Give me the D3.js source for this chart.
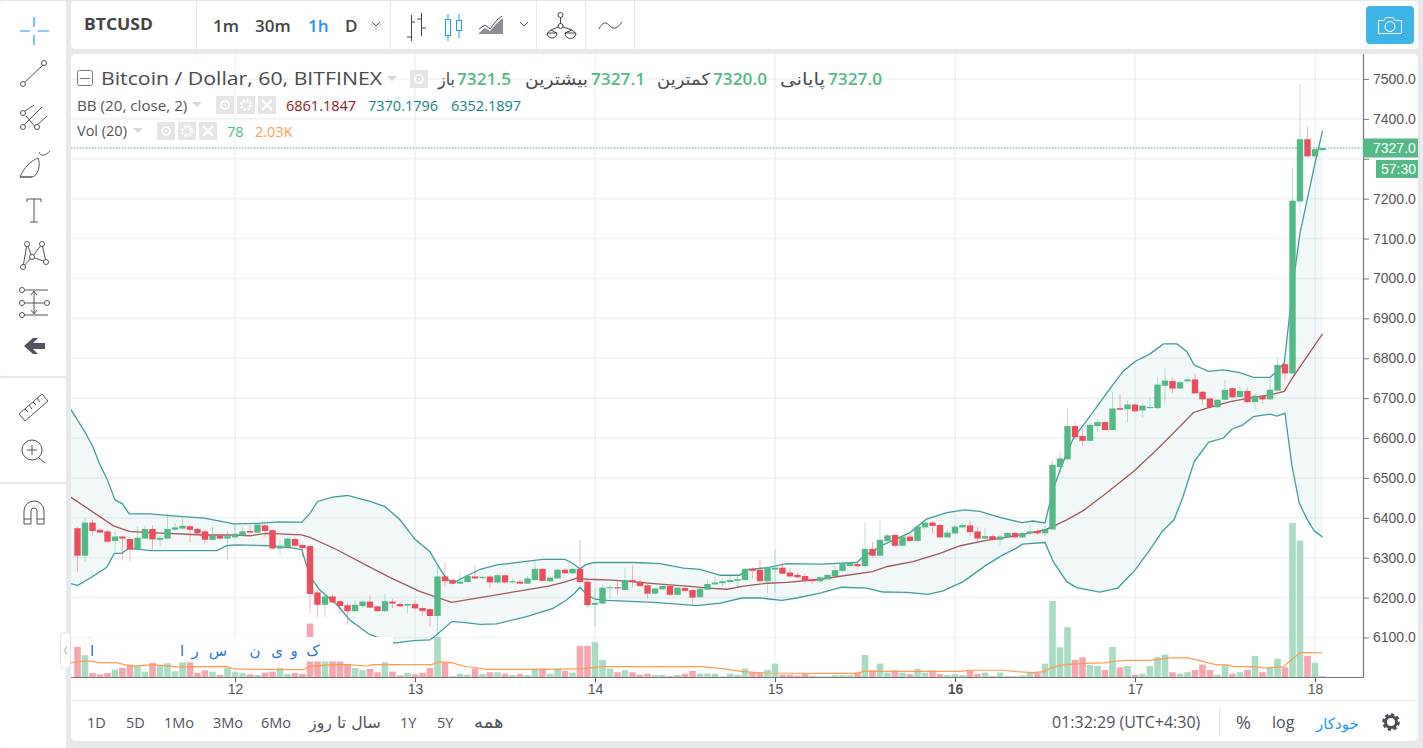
<!DOCTYPE html>
<html>
<head>
<meta charset="utf-8">
<style>
html,body{margin:0;padding:0;background:#e6e9ec;overflow:hidden}
svg{display:block}
text{font-family:"Open Sans","DejaVu Sans",sans-serif}
</style>
</head>
<body>
<svg id="c" width="1423" height="748"></svg>
<script src="https://cdn.jsdelivr.net/npm/d3@7"></script>
<script>
// DATA ///////////////////////////////////////////////////////////////////////
// hourly candles
var opens = [6374,6305,6388,6370,6366,6342,6353,6347,6320,6348,6372,6345,6348,6370,6373,6379,6372,6366,6345,6355,
  6348,6351,6356,6367,6363,6381,6369,6323,6325,6347,6332,6329,6213,6182,6203,6191,6181,6166,6179,6190,
  6178,6166,6190,6184,6180,6184,6174,6171,6154,6253,6244,6235,6239,6253,6249,6253,6238,6256,6238,6240,
  6235,6244,6272,6241,6248,6270,6261,6272,6240,6182,6185,6224,6226,6219,6244,6240,6231,6210,6221,6229,
  6207,6224,6219,6201,6220,6233,6236,6239,6242,6244,6272,6270,6241,6270,6275,6263,6257,6254,6246,6241,
  6246,6254,6267,6279,6284,6279,6322,6305,6342,6357,6330,6353,6342,6376,6388,6382,6351,6361,6376,6381,
  6366,6348,6354,6345,6351,6362,6351,6361,6367,6361,6371,6527,6547,6630,6605,6593,6630,6640,6620,6675,
  6672,6684,6669,6675,6675,6731,6743,6724,6742,6747,6716,6699,6677,6696,6725,6703,6718,6690,6706,6697,
  6719,6785,6762,7193,7349,7306,7321.5];
var closes = [6305,6388,6367,6363,6340,6353,6348,6320,6350,6372,6346,6350,6372,6376,6380,6370,6361,6345,6355,6348,
  6354,6360,6366,6363,6383,6367,6323,6330,6348,6330,6324,6209,6182,6203,6188,6179,6166,6182,6190,6175,
  6166,6191,6185,6178,6184,6173,6166,6154,6253,6241,6235,6240,6254,6248,6252,6238,6256,6238,6241,6235,
  6248,6272,6242,6250,6270,6261,6272,6239,6181,6187,6225,6226,6223,6244,6239,6229,6210,6223,6229,6207,
  6225,6217,6200,6222,6234,6238,6241,6244,6246,6272,6267,6241,6275,6275,6260,6253,6251,6242,6241,6251,
  6257,6269,6284,6287,6279,6322,6305,6345,6356,6330,6353,6342,6378,6388,6380,6351,6363,6378,6382,6364,
  6348,6354,6345,6353,6362,6351,6362,6366,6361,6372,6533,6549,6630,6602,6593,6633,6640,6620,6674,6671,
  6684,6667,6681,6678,6734,6744,6724,6740,6747,6712,6697,6677,6696,6721,6702,6718,6690,6706,6697,6721,
  6783,6762,7195,7349,7306,7324,7327];
var highs = [6378,6401,6396,6374,6370,6366,6355,6349,6378,6380,6382,6355,6411,6388,6399,6382,6376,6370,6378,6357,
  6366,6382,6378,6382,6386,6386,6371,6346,6351,6349,6335,6332,6221,6207,6209,6194,6188,6194,6193,6207,
  6181,6209,6196,6188,6186,6193,6178,6173,6278,6288,6247,6263,6257,6280,6256,6256,6260,6258,6247,6246,
  6254,6295,6274,6254,6272,6273,6278,6345,6244,6224,6232,6232,6244,6274,6282,6246,6234,6224,6232,6231,
  6228,6228,6221,6226,6246,6253,6249,6254,6257,6275,6276,6295,6278,6321,6289,6274,6263,6259,6248,6254,
  6259,6282,6290,6289,6289,6388,6340,6392,6360,6359,6357,6360,6382,6395,6391,6384,6371,6382,6386,6392,
  6376,6374,6359,6357,6365,6365,6364,6382,6371,6382,6543,6566,6675,6640,6625,6637,6646,6642,6716,6711,
  6694,6687,6686,6700,6752,6775,6752,6742,6750,6762,6719,6702,6697,6746,6727,6731,6727,6712,6708,6750,
  6800,6789,7277,7488,7381,7329,7327.1];
var lows = [6263,6290,6355,6361,6339,6315,6294,6290,6318,6346,6321,6330,6346,6368,6371,6338,6357,6335,6343,6346,
  6294,6349,6355,6361,6361,6351,6321,6307,6325,6328,6303,6159,6151,6151,6184,6157,6132,6164,6173,6173,
  6164,6164,6174,6176,6162,6169,6157,6127,6102,6226,6233,6234,6238,6246,6246,6225,6236,6236,6236,6233,
  6234,6243,6240,6239,6246,6259,6259,6236,6176,6127,6183,6196,6207,6218,6226,6226,6198,6208,6219,6204,
  6205,6213,6184,6199,6219,6231,6228,6238,6226,6243,6248,6239,6211,6213,6259,6251,6249,6236,6234,6239,
  6244,6253,6265,6278,6271,6276,6301,6303,6336,6328,6328,6340,6340,6371,6360,6350,6350,6359,6375,6353,
  6340,6346,6343,6331,6350,6350,6350,6358,6358,6355,6370,6508,6545,6597,6580,6591,6619,6619,6619,6669,
  6639,6665,6652,6673,6673,6687,6712,6722,6740,6711,6683,6675,6675,6694,6701,6701,6688,6672,6687,6696,
  6717,6744,6761,7162,7304,7304,7320];
// volume in thousands
var volumes = [2.54,1.84,.34,.23,.34,.62,.76,1.05,.99,.45,1.19,.99,1.16,.48,1.24,1.24,.34,.57,.45,.17,
  .79,.45,.34,.23,.17,.37,.45,.76,.25,.34,.25,4.52,1.41,1.55,1.7,1.55,1.07,.76,.57,.68,
  .4,1.24,.45,.14,.34,.23,.34,.76,3.39,1.24,.06,.28,.2,.71,.25,.4,.4,.28,.17,.28,
  .17,.71,.71,.28,.71,.51,.37,2.63,2.63,2.94,1.44,.71,.4,.57,.4,.2,.28,.17,.17,.08,
  .17,.28,.51,.28,.28,.28,.06,.28,.2,.71,.4,.4,.59,1.13,.2,.2,.11,.31,.08,.06,
  .06,.17,.17,.17,.37,1.86,.57,1.13,.37,.57,.37,.25,.68,.37,.57,.25,.17,.25,.17,.51,
  .25,.37,.08,.37,.08,.06,.14,.37,.37,1.13,6.44,2.51,4.21,1.44,1.67,1.02,.93,.59,2.54,.82,
  .93,.2,.28,.93,1.67,1.89,.4,.28,.4,.59,1.05,.59,.2,1.05,.28,.4,.59,1.78,.4,.79,
  1.55,.82,13.02,11.53,1.78,1.21,.078];
// indicator lines as [candle index, value] readings
var bbUpper = [[-1,6675],[0,6645],[1,6615],[2,6580],[3,6533],[4,6495],[5,6445],[6,6435],[6.9,6410],[9.7,6410],[12.7,6405],[16.9,6399],[20.9,6385],[23.9,6386],[26.9,6390],[29.9,6389],[31,6411],[32,6441],[34,6452],[36,6456],[39,6441],[41,6428],[43,6395],[45,6346],[47,6315],[48,6282],[49,6253],[50,6236],[51.7,6253],[53.7,6271],[55.9,6282],[59,6289],[62,6296],[65,6296],[66,6286],[67,6272],[67.7,6282],[68.8,6288],[74.1,6288],[77.7,6285],[80.8,6274],[83,6271],[85.7,6256],[88.3,6256],[89.2,6270],[92,6275],[94.6,6285],[99,6284],[103.9,6288],[104.8,6303],[107.4,6332],[111,6363],[113.2,6397],[115.9,6413],[118.3,6420],[120.3,6416],[123,6401],[125.9,6388],[127.4,6392],[129,6387],[130,6466],[131,6520],[131.9,6562],[132.8,6600],[134.8,6650],[137.2,6712],[139.4,6767],[141,6792],[143,6811],[144.8,6836],[146.6,6836],[147.9,6817],[148.9,6783],[150.8,6767],[152.8,6771],[155,6764],[156.8,6752],[159,6752],[159.9,6767],[160.9,6788],[162,6975],[163,7114],[164,7201],[165,7289],[166,7370.18]];
var bbBasis = [[-1,6453],[4.8,6380],[6.9,6366],[9.7,6363],[16.8,6357],[20.3,6357],[23,6355],[25.2,6361],[29.9,6357],[31,6351],[34.6,6320],[38.6,6280],[41.7,6250],[45.7,6215],[49.9,6188],[62.8,6229],[64.8,6238],[66.6,6249],[68,6246],[71.4,6244],[77.7,6234],[81.7,6228],[84,6224],[86.6,6221],[88.8,6229],[91.9,6236],[94.6,6238],[99,6246],[100.8,6251],[106,6265],[108,6278],[111.4,6290],[115,6311],[117.7,6330],[121,6343],[125,6355],[129,6370],[130,6378],[131.9,6395],[134.1,6418],[137.2,6462],[140.8,6516],[143.4,6562],[145.2,6595],[148.8,6664],[150.6,6675],[153.7,6691],[156.8,6702],[159,6708],[160.9,6717],[162.1,6754],[166,6861.18]];
var bbLower = [[-1,6236],[0,6230],[1.7,6249],[3.9,6276],[4.9,6311],[5.9,6311],[6.9,6324],[9.7,6318],[12.3,6318],[18.6,6318],[19.9,6330],[21.2,6332],[25.7,6330],[28.8,6324],[29.9,6320],[31,6253],[32.3,6219],[34.6,6182],[36.3,6144],[39,6107],[42.3,6086],[44.8,6092],[47,6094],[47.9,6107],[49.9,6140],[51.4,6138],[53.7,6133],[55.9,6134],[60,6153],[63.4,6173],[65.2,6194],[66.3,6211],[67,6226],[67.9,6207],[69,6196],[70.6,6193],[76.8,6188],[82.6,6180],[85.7,6186],[88.6,6199],[91,6199],[93.9,6193],[95.9,6199],[99,6211],[101.9,6226],[105.2,6224],[107.4,6214],[110.6,6213],[113.4,6208],[115.4,6217],[118.1,6240],[121.2,6282],[123.4,6307],[125.2,6324],[126,6334],[129,6338],[130.1,6290],[131.9,6240],[133.2,6225],[136.3,6214],[138.7,6224],[141,6269],[143,6320],[144.6,6365],[146.2,6395],[147.4,6453],[148.9,6541],[150.8,6589],[152.8,6600],[153.9,6622],[155.4,6633],[156.8,6654],[159,6660],[159.9,6655],[161,6662],[161.9,6533],[162.9,6437],[163.9,6398],[164.9,6367],[166,6352.19]];
var volMA = [[-1,1.19],[1.2,1.38],[3,1.21],[5.2,1.21],[7.2,.9],[10.1,1.05],[13.2,.85],[19.9,.9],[20.8,.68],[27.4,.62],[30.1,.62],[31,.9],[34.1,1.05],[35.9,1.05],[38.6,.93],[39.4,1.05],[41.7,1.05],[47.2,1.05],[48.3,1.27],[49.9,1.21],[51.4,.93],[54.6,.65],[63.4,.65],[67.4,.71],[70,.88],[83,.88],[85.7,.73],[88.8,.45],[91.5,.34],[99,.31],[103.9,.31],[104.8,.48],[117.7,.48],[119,.57],[123.4,.57],[125.2,.45],[127.4,.37],[128.8,.45],[129.9,.79],[131.4,1.02],[134,1.16],[137,1.19],[137.9,1.3],[139.7,1.41],[143,1.41],[145.7,1.61],[148.1,1.61],[150.1,1.3],[151.9,1.02],[153.2,1.02],[154.1,.88],[156.8,.88],[158.1,.76],[160.8,.88],[163,2.06],[164.9,2.06],[166,2.03]];

var priceTicks = d3.range(6100, 7501, 100);
var dayIndex = [21, 45, 69, 93, 117, 141, 165];
var dayLabels = ["12", "13", "14", "15", "16", "17", "18"];
var lastPrice = 7327.0;
var ranges = ["1D", "5D", "1Mo", "3Mo", "6Mo", "سال تا روز", "1Y", "5Y", "همه"];
var rangeX = [87, 126, 164, 213, 261, 309, 400, 437, 474];
var rangeSize = [14.5, 14.5, 14.5, 14.5, 14.5, 15.8, 14.5, 14.5, 18];

// SCALES /////////////////////////////////////////////////////////////////////
var UP = "#53b987", DOWN = "#eb4d5c", TEAL = "#138484", GREY = "#50535e", BLUE = "#2196f3";
var x = d3.scaleLinear().domain([0, 166]).range([77.5, 1322.5]);
var y = d3.scaleLinear().domain([6100, 7500]).range([637.5, 79]);
var yVol = d3.scaleLinear().domain([0, 13.02]).range([677, 523]);

var svg = d3.select("#c");

function txt(px, py, s, size, col, extra) {
  var t = svg.append("text").attr("x", px).attr("y", py).attr("font-size", size)
    .attr("fill", col || GREY).text(s);
  for (var k in (extra || {})) t.attr(k, extra[k]);
  return t;
}
function box(g, px, py, w, h, fill, r) {
  return g.append("rect").attr("x", px).attr("y", py).attr("width", w).attr("height", h)
    .attr("fill", fill).attr("rx", r || 0);
}

// PANELS /////////////////////////////////////////////////////////////////////
box(svg, 0, 1, 66, 375, "#fff", 2);
box(svg, 0, 378, 66, 104, "#fff", 2);
box(svg, 0, 484, 66, 264, "#fff", 2);
box(svg, 71, 1, 1347, 48, "#fff", 4);
box(svg, 71, 54, 1347, 687, "#fff", 5);
[196, 390, 536, 585, 634].forEach(function (sx) {
  svg.append("line").attr("x1", sx + .5).attr("x2", sx + .5).attr("y1", 1).attr("y2", 49).attr("stroke", "#e6e9ec");
});
svg.append("line").attr("x1", 71).attr("x2", 1418).attr("y1", 700.5).attr("y2", 700.5).attr("stroke", "#e6e9ec");

// GRID ///////////////////////////////////////////////////////////////////////
var plot = svg.append("g").attr("clip-path", "url(#plotClip)");
svg.append("clipPath").attr("id", "plotClip").append("rect")
  .attr("x", 71).attr("y", 54).attr("width", 1292.5).attr("height", 623);

plot.selectAll(".hg").data(priceTicks).enter().append("line")
  .attr("x1", 71).attr("x2", 1363).attr("y1", y).attr("y2", y)
  .attr("stroke", "#f0f3f6").attr("stroke-width", 1.6);
plot.selectAll(".vg").data(dayIndex).enter().append("line")
  .attr("x1", x).attr("x2", x).attr("y1", 54).attr("y2", 677)
  .attr("stroke", "#e6eef3").attr("stroke-width", 1);

// VOLUME /////////////////////////////////////////////////////////////////////
plot.selectAll(".vol").data(volumes).enter().append("rect")
  .attr("x", function (d, i) { return x(i) - 3.3; })
  .attr("width", 6.6)
  .attr("y", function (d) { return yVol(d); })
  .attr("height", function (d) { return 677 - yVol(d); })
  .attr("fill", function (d, i) { return closes[i] >= opens[i] ? "#aadcc3" : "#f6a6ae"; });

// BOLLINGER BANDS ////////////////////////////////////////////////////////////
var lineP = d3.line().x(function (d) { return x(d[0]); }).y(function (d) { return y(d[1]); });
plot.append("path").datum(bbUpper.concat(bbLower.slice().reverse()))
  .attr("d", function (d) { return lineP(d) + "Z"; })
  .attr("fill", "#138484").attr("fill-opacity", .055);
[bbUpper, bbLower].forEach(function (band) {
  plot.append("path").datum(band).attr("d", lineP).attr("fill", "none")
    .attr("stroke", TEAL).attr("stroke-opacity", .8).attr("stroke-width", 1.3);
});
plot.append("path").datum(bbBasis).attr("d", lineP).attr("fill", "none")
  .attr("stroke", "#872323").attr("stroke-opacity", .75).attr("stroke-width", 1.3);

// watermark strip sits over the indicators
box(plot, 93, 637, 300, 24.5, "#fff");
var wmLetters = ["ا", "ا", "ر", "س", "ن", "ی", "و", "ک"];
var wmX = [92, 182, 195, 218, 255, 277, 294, 313];
plot.selectAll(".wm").data(wmLetters).enter().append("text")
  .attr("x", function (d, i) { return wmX[i]; }).attr("y", 656)
  .attr("text-anchor", "middle").attr("font-size", 15)
  .attr("style", "font-family:'DejaVu Sans'").attr("fill", "#2f75d0").text(function (d) { return d; });

// volume average goes on top of the strip
var lineV = d3.line().x(function (d) { return x(d[0]); }).y(function (d) { return yVol(d[1]); });
plot.append("path").datum(volMA).attr("d", lineV).attr("fill", "none").attr("stroke", "#ff9a4d").attr("stroke-width", 1.2);

// CANDLES ////////////////////////////////////////////////////////////////////
var candle = plot.selectAll(".candle").data(opens).enter().append("g");
function col(i) { return closes[i] >= opens[i] ? UP : DOWN; }
candle.append("line")
  .attr("x1", function (d, i) { return x(i); }).attr("x2", function (d, i) { return x(i); })
  .attr("y1", function (d, i) { return y(highs[i]); }).attr("y2", function (d, i) { return y(lows[i]); })
  .attr("stroke", function (d, i) { return col(i); }).attr("stroke-opacity", .42);
candle.append("rect")
  .attr("x", function (d, i) { return x(i) - 3.2; }).attr("width", 6.4)
  .attr("y", function (d, i) { return y(Math.max(opens[i], closes[i])); })
  .attr("height", function (d, i) { return Math.max(1, Math.abs(y(opens[i]) - y(closes[i]))); })
  .attr("fill", function (d, i) { return col(i); });

// last price line
plot.append("line").attr("x1", 71).attr("x2", 1363).attr("y1", y(lastPrice)).attr("y2", y(lastPrice))
  .attr("stroke", UP).attr("stroke-dasharray", "1.5 1.5");

// AXES ///////////////////////////////////////////////////////////////////////
// the 7300 label sits under the price tags in the picture
var yAxis = d3.axisRight(y).tickValues(priceTicks)
  .tickFormat(function (d) { return d === 7300 ? "" : d3.format(".1f")(d); })
  .tickSize(5).tickPadding(4);
var gy = svg.append("g").attr("transform", "translate(1364,0)").call(yAxis);
gy.select(".domain").remove();
gy.selectAll("line").attr("stroke", "#777");
gy.selectAll("text").attr("font-size", 14).attr("fill", "#555").attr("style", "font-family:'Liberation Sans'");

var xAxis = d3.axisBottom(x).tickValues(dayIndex).tickFormat(function (d, i) { return dayLabels[i]; }).tickSize(5).tickPadding(2);
var gx = svg.append("g").attr("transform", "translate(0,677)").call(xAxis);
gx.select(".domain").remove();
gx.selectAll("line").attr("stroke", "#555");
gx.selectAll("text").attr("font-size", 14).attr("fill", "#555")
  .attr("font-weight", function (d, i) { return dayLabels[i] === "16" ? "bold" : "normal"; })
  .attr("style", "font-family:'Liberation Sans'");

svg.append("line").attr("x1", 1363.5).attr("x2", 1363.5).attr("y1", 54).attr("y2", 677.5).attr("stroke", "#777").attr("stroke-width", 1.2);
svg.append("line").attr("x1", 71).attr("x2", 1364).attr("y1", 677.5).attr("y2", 677.5).attr("stroke", "#777").attr("stroke-width", 1.2);

// price tags
box(svg, 1363, 138.5, 55, 19, UP);
txt(1373, 153, "7327.0", 14, "#fff", { style: "font-family:'Liberation Sans'" });
box(svg, 1376, 160, 42, 18, UP);
txt(1381, 174, "57:30", 14, "#fff", { style: "font-family:'Liberation Sans'" });

// LEGEND /////////////////////////////////////////////////////////////////////
function tri(px, py) {
  svg.append("path").attr("d", "M" + px + " " + py + "h10l-5 5z").attr("fill", "#d6d8da");
}
function btns(xs, py) {
  xs.forEach(function (bx) { box(svg, bx, py, 18, 18, "#e4e5e6"); });
  xs.forEach(function (bx, i) {
    var cx = bx + 9, cy = py + 9;
    if (i === 0) {
      svg.append("circle").attr("cx", cx).attr("cy", cy).attr("r", 4).attr("fill", "none").attr("stroke", "#fff").attr("stroke-width", 1.6);
      svg.append("circle").attr("cx", cx).attr("cy", cy).attr("r", 1.2).attr("fill", "#fff");
    } else if (i === 1) {
      svg.append("circle").attr("cx", cx).attr("cy", cy).attr("r", 4.6).attr("fill", "none").attr("stroke", "#fff").attr("stroke-width", 3).attr("stroke-dasharray", "2.2 1.4");
    } else {
      svg.append("path").attr("d", "M" + (cx - 5) + " " + (cy - 5) + "l10 10m0 -10l-10 10").attr("stroke", "#fff").attr("stroke-width", 2);
    }
  });
}
// collapse square
svg.append("rect").attr("x", 77.5).attr("y", 70.5).attr("width", 15).attr("height", 15).attr("rx", 2).attr("fill", "none").attr("stroke", "#777");
svg.append("line").attr("x1", 80).attr("x2", 90).attr("y1", 78.5).attr("y2", 78.5).attr("stroke", "#777");
txt(101, 85, "Bitcoin / Dollar, 60, BITFINEX", 19, "#4a4a4a", { textLength: 281, lengthAdjust: "spacingAndGlyphs" });
tri(387, 76);
btns([410], 70);
var ohlcLabels = ["باز", "بیشترین", "کمترین", "پایانی"];
var ohlcLabelX = [438, 525, 657, 780];
var ohlcLen = [17, 63, 53, 45];
var ohlcValues = ["7321.5", "7327.1", "7320.0", "7327.0"];
var ohlcValueX = [457, 591, 713, 828];
ohlcLabels.forEach(function (s, i) {
  txt(ohlcLabelX[i], 85, s, 16.5, "#4a4a4a", { style: "font-family:'DejaVu Sans'", textLength: ohlcLen[i], lengthAdjust: "spacingAndGlyphs" });
  txt(ohlcValueX[i], 85, ohlcValues[i], 17, UP, { "font-weight": 600 , textLength: 54, lengthAdjust: "spacingAndGlyphs" });
});
txt(77, 111, "BB (20, close, 2)", 15.2, "#555");
tri(192, 102);
btns([216, 237, 258], 96);
txt(286, 111, "6861.1847", 14.5, "#872323");
txt(368, 111, "7370.1796", 14.5, "#138484");
txt(451, 111, "6352.1897", 14.5, "#138484");
txt(77, 136, "Vol (20)", 14.5, "#555");
tri(133, 128);
btns([157, 178, 199], 122);
txt(227, 137, "78", 14.5, UP);
txt(255, 137, "2.03K", 14.5, "#ff9a4d");

// TOP TOOLBAR ////////////////////////////////////////////////////////////////
txt(84, 30, "BTCUSD", 16.5, "#444", { "font-weight": 700, textLength: 69, lengthAdjust: "spacingAndGlyphs" });
txt(213, 32, "1m", 17, "#444", { "font-weight": 600 });
txt(255, 32, "30m", 17, "#444", { "font-weight": 600 });
txt(308, 32, "1h", 17, BLUE, { "font-weight": 600 });
txt(345, 32, "D", 17, "#444", { "font-weight": 600 });
function chev(px, py) {
  svg.append("path").attr("d", "M" + (px - 4) + " " + (py - 2) + "l4 4l4 -4").attr("fill", "none").attr("stroke", GREY);
}
chev(376, 24); chev(524, 24);
function icon(d, c, w) {
  return svg.append("path").attr("d", d).attr("fill", "none").attr("stroke", c || GREY).attr("stroke-width", w || 1);
}
// bars
icon("M411.5 15V41M407 37H411.5M411.5 22H415M421.5 13V36M417 19H421.5M421.5 28H426", "#444");
// candles
icon("M448 14V41M459 14V38", BLUE);
svg.append("rect").attr("x", 445.5).attr("y", 19.5).attr("width", 5).attr("height", 16).attr("fill", "#fff").attr("stroke", BLUE);
svg.append("rect").attr("x", 456.5).attr("y", 20.5).attr("width", 5).attr("height", 10).attr("fill", "#fff").attr("stroke", BLUE);
// area
icon("M479 29L485 25L490 29L497 20L502 16", GREY);
svg.append("path").attr("d", "M479 33L485 28L490 31L497 23L503 18V34H479Z").attr("fill", "#8a8d95");
// compare
icon("M560.5 17V24M551 30L560.5 26L572 30M547 33H557A5 5 0 0 1 547 33ZM565 33H576A5.5 5.5 0 0 1 565 33ZM551 30L547.5 33M551 30L556.5 33M572 30L565 33M572 30L575.5 33", "#444");
svg.append("circle").attr("cx", 560.5).attr("cy", 15).attr("r", 2.5).attr("fill", "#fff").attr("stroke", "#444");
svg.append("circle").attr("cx", 560.5).attr("cy", 26).attr("r", 2.5).attr("fill", "#fff").attr("stroke", "#444");
// indicators
icon("M599 29C603 21 606 22 610 26C614 30 618 28 622 22", GREY);
// camera
box(svg, 1366, 6, 48, 38, "#3eb4e6", 4);
icon("M1378.5 33.5V20.5H1384L1386 17.5H1393L1395 20.5H1401.5V33.5Z", "#fff");
svg.append("circle").attr("cx", 1390).attr("cy", 26.5).attr("r", 5).attr("fill", "none").attr("stroke", "#fff");

// LEFT TOOLBAR ///////////////////////////////////////////////////////////////
function dot(px, py, r) {
  svg.append("circle").attr("cx", px).attr("cy", py).attr("r", r || 2.5).attr("fill", "#fff").attr("stroke", GREY);
}
icon("M34 17V27M34 35V45M20 31H30M38 31H49", BLUE, 1.2);
icon("M23 84L44 64"); dot(23, 84); dot(44, 63);
icon("M22 113L34 105M22 127L42 107M26 116L37 129M35 127L47 116"); dot(23, 113); dot(23, 127); dot(37, 127);
icon("M20 177C24 167 31 161 38 158C41 165 38 176 32 177ZM20 177H32M39 152C41 157 45 156 50 151");
icon("M27 199H41V202M27 199V202M34 199V222M30 222H38");
icon("M23 267L27 244L32 257L42 244L46 262L32 257L23 267"); dot(23, 267); dot(27, 244); dot(32, 257); dot(42, 244); dot(46, 262);
icon("M23 290H48M23 303H47M23 315H48M34 292V313M31 295L34 291L37 295M31 310L34 314L37 310"); dot(22, 290); dot(22, 303); dot(47, 303); dot(22, 315);
svg.append("path").attr("d", "M24 346L33 338H38L33 343H45V349H33L38 354H33Z").attr("fill", "#50535e");
icon("M19 414L42 394L48 401L25 421ZM25 409L28 412M29 405L32 409M33 402L36 405M37 398L40 402");
svg.append("circle").attr("cx", 32).attr("cy", 450).attr("r", 10).attr("fill", "none").attr("stroke", GREY);
icon("M39 458L45 463M27 450H37M32 445V455");
icon("M24 524V511A10 10 0 0 1 44 511V524H37V511A3 3 0 0 0 31 511V524ZM24 519H31M37 519H44");

// collapse tab
svg.append("rect").attr("x", 60.5).attr("y", 632.5).attr("width", 10).attr("height", 36).attr("rx", 4).attr("fill", "#fff").attr("stroke", "#dfe2e5");
icon("M67 647L64 650.5L67 654", "#999");

// BOTTOM BAR /////////////////////////////////////////////////////////////////
ranges.forEach(function (s, i) {
  txt(rangeX[i], 728, s, rangeSize[i], "#50535e", { style: i === 5 || i === 8 ? "font-family:'DejaVu Sans'" : null });
});
txt(1052, 728, "01:32:29 (UTC+4:30)", 16, "#50535e");
svg.append("line").attr("x1", 1219.5).attr("x2", 1219.5).attr("y1", 708).attr("y2", 735).attr("stroke", "#e0e3e6");
txt(1236, 729, "%", 18, "#50535e");
txt(1272, 728, "log", 16, "#50535e");
txt(1316, 729, "خودکار", 15, BLUE, { style: "font-family:'DejaVu Sans'" });
svg.append("circle").attr("cx", 1391).attr("cy", 722).attr("r", 5.5).attr("fill", "none").attr("stroke", "#4a4d57").attr("stroke-width", 3);
svg.append("circle").attr("cx", 1391).attr("cy", 722).attr("r", 7.6).attr("fill", "none").attr("stroke", "#4a4d57").attr("stroke-width", 2.4).attr("stroke-dasharray", "3.4 2.5");
</script>
</body>
</html>
